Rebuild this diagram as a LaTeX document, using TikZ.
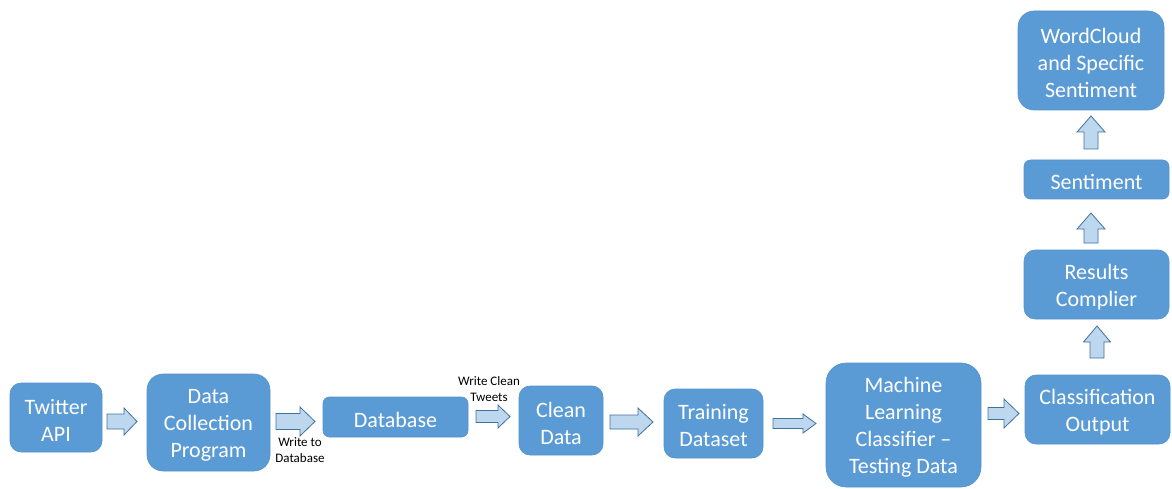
\documentclass[tikz,border=0pt]{standalone}
\usepackage{fontspec}
\setmainfont{Carlito}
\definecolor{boxblue}{HTML}{5B9BD5}
\definecolor{boxedge}{HTML}{5592CB}
\definecolor{arrfill}{HTML}{BDD7EE}
\definecolor{arredge}{HTML}{41719C}
\tikzset{
  box/.style={fill=boxblue, draw=boxedge, line width=0.6pt, inner sep=0pt},
  boxtext/.style={text=white, align=center, inner sep=0pt, yshift=-2.5pt,
    font=\fontsize{22}{27}\selectfont},
  note/.style={align=center, inner sep=0pt, text=black,
    font=\fontsize{13}{16}\selectfont},
  blk/.style={fill=arrfill, draw=arredge, line width=0.8pt, line join=miter}
}
% right-pointing block arrow: x1, x2, y centre, half head width, half shaft width, head length
\newcommand\rblock[6]{%
  \draw[blk] (#1,{#3-#5}) -- ({#2-#6},{#3-#5}) -- ({#2-#6},{#3-#4}) -- (#2,#3)
    -- ({#2-#6},{#3+#4}) -- ({#2-#6},{#3+#5}) -- (#1,{#3+#5}) -- cycle;}
% upward block arrow: x centre, y bottom, y top, half head width, half shaft width, head length
\newcommand\ublock[6]{%
  \draw[blk] ({#1-#5},#2) -- ({#1-#5},{#3+#6}) -- ({#1-#4},{#3+#6}) -- (#1,#3)
    -- ({#1+#4},{#3+#6}) -- ({#1+#5},{#3+#6}) -- ({#1+#5},#2) -- cycle;}
\begin{document}
\begin{tikzpicture}[x=1pt, y=-1pt]
\useasboundingbox (0,0) rectangle (1172,489);

% processing stages along the bottom row
\node[box, minimum width=92pt, minimum height=69pt, rounded corners=11pt,
  label={[boxtext]center:{Twitter\\API}}] (tw) at (56,417.5) {};
\node[box, minimum width=123pt, minimum height=97pt, rounded corners=16pt,
  label={[boxtext]center:{Data\\Collection\\Program}}] (dcp) at (208.5,422.5) {};
\node[box, minimum width=145pt, minimum height=40pt, rounded corners=6.5pt,
  label={[boxtext]center:{Database}}] (db) at (395.5,417) {};
\node[box, minimum width=84pt, minimum height=69pt, rounded corners=11pt,
  label={[boxtext]center:{Clean\\Data}}] (cd) at (561,420.5) {};
\node[box, minimum width=99pt, minimum height=69pt, rounded corners=11pt,
  label={[boxtext]center:{Training\\Dataset}}] (td) at (713.5,423.5) {};
\node[box, minimum width=155pt, minimum height=124pt, rounded corners=20pt,
  label={[boxtext]center:{Machine\\Learning\\Classifier –\\Testing Data}}] (ml) at (903.5,425) {};
\node[box, minimum width=145pt, minimum height=69pt, rounded corners=11pt,
  label={[boxtext]center:{Classification\\Output}}] (co) at (1097.5,409.5) {};

% result stages up the right column
\node[box, minimum width=145pt, minimum height=69pt, rounded corners=11pt,
  label={[boxtext]center:{Results\\Complier}}] (rc) at (1096.5,284.5) {};
\node[box, minimum width=145pt, minimum height=39pt, rounded corners=6.5pt,
  label={[boxtext]center:{Sentiment}}] (se) at (1096.5,179.5) {};
\node[box, minimum width=146pt, minimum height=99pt, rounded corners=16pt,
  label={[boxtext]center:{WordCloud\\and Specific\\Sentiment}}] (wc) at (1091,60.5) {};

% block arrows between stages
\rblock{107}{137}{421.5}{13.5}{7.5}{13}
\rblock{276}{315}{421.5}{14.5}{8}{15}
\rblock{476}{510}{416.5}{11.5}{6}{12}
\rblock{610}{653}{422}{14}{7}{15}
\rblock{773}{816}{423.5}{9.5}{5}{13}
\rblock{988}{1019}{413.5}{14.5}{6}{15}
\ublock{1097}{358}{326}{13.5}{7}{16}
\ublock{1091}{243}{213}{14}{7}{16}
\ublock{1091}{149}{116}{14}{7}{16}

% arrow captions
\node[note] (l1) at (300,450.5) {Write to\\Database};
\node[note] (l2) at (489,389.5) {Write Clean\\Tweets};
\end{tikzpicture}
\end{document}
